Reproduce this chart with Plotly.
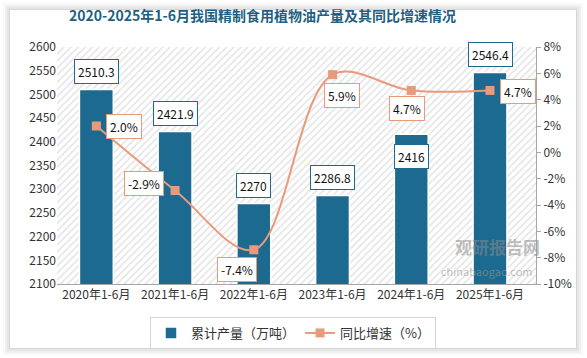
import plotly.graph_objects as go

categories = ["2020年1-6月", "2021年1-6月", "2022年1-6月", "2023年1-6月", "2024年1-6月", "2025年1-6月"]
output_values = [2510.3, 2421.9, 2270, 2286.8, 2416, 2546.4]
growth_values = [2.0, -2.9, -7.4, 5.9, 4.7, 4.7]
output_labels = ["2510.3", "2421.9", "2270", "2286.8", "2416", "2546.4"]
growth_labels = ["2.0%", "-2.9%", "-7.4%", "5.9%", "4.7%", "4.7%"]
left_ticks = list(range(2100, 2601, 50))
right_ticks = list(range(-10, 9, 2))

BAR = "#1D6A90"
LINE = "#E99A7B"
TXT = "#333333"
FONT = "Noto Sans CJK SC"

W, H = 587, 358
ml, mr, mt, mb = 57, 51, 47, 74
pw, ph = W - ml - mr, H - mt - mb


def px_x(x):
    return (x - ml) / pw


def px_y(y):
    return (H - y - mb) / ph


fig = go.Figure()

# hatched plot background (decoration on hidden base axes)
fig.add_trace(go.Bar(x=[0.5], y=[1], width=[1], xaxis="x", yaxis="y",
                     marker=dict(color="white", line=dict(width=0),
                                 pattern=dict(shape="/", fgcolor="#c8c8c8", bgcolor="white", size=5, solidity=0.3)),
                     hoverinfo="skip", showlegend=False))

fig.add_trace(go.Bar(x=categories, y=output_values, xaxis="x2", yaxis="y2",
                     name="累计产量（万吨）", marker=dict(color=BAR, line=dict(color="white", width=1.5)),
                     width=0.43))
fig.add_trace(go.Scatter(x=categories, y=growth_values, xaxis="x2", yaxis="y3",
                         name="同比增速（%）", mode="lines+markers",
                         line=dict(color=LINE, width=2, shape="spline", smoothing=1.0),
                         marker=dict(symbol="square", size=9, color=LINE)))

annotations = []
bar_offsets = {4: (0, -22)}
for i, (c, v, t) in enumerate(zip(categories, output_values, output_labels)):
    dx, dy = bar_offsets.get(i, (0, 18))
    annotations.append(dict(x=c, y=v, xref="x2", yref="y2", text=t, showarrow=False,
                            xshift=dx, yshift=dy, bgcolor="white", bordercolor=BAR, borderwidth=1,
                            borderpad=3, font=dict(family=FONT, size=12, color="#111")))
line_offsets = {0: (28, 0), 1: (-31, 7), 2: (-17, -20), 3: (9, -21), 4: (-4, -18), 5: (28, -1)}
for i, (c, v, t) in enumerate(zip(categories, growth_values, growth_labels)):
    dx, dy = line_offsets[i]
    annotations.append(dict(x=c, y=v, xref="x2", yref="y3", text=t, showarrow=False,
                            xshift=dx, yshift=dy, bgcolor="white", bordercolor=LINE, borderwidth=1,
                            borderpad=3, font=dict(family=FONT, size=12, color="#111")))

annotations.append(dict(x=px_x(262), y=px_y(15), xref="paper", yref="paper", xanchor="center", yanchor="middle",
                        text="<b>2020-2025年1-6月我国精制食用植物油产量及其同比增速情况</b>",
                        showarrow=False, font=dict(family=FONT, size=14, color="#1F5F82")))
annotations.append(dict(x=px_x(497), y=px_y(246), xref="paper", yref="paper", xanchor="center", yanchor="middle",
                        text="<b>观研报告网</b>", showarrow=False,
                        font=dict(family=FONT, size=17, color="rgba(140,140,140,0.55)")))
annotations.append(dict(x=px_x(487), y=px_y(271), xref="paper", yref="paper", xanchor="center", yanchor="middle",
                        text="chinabaogao.com", showarrow=False,
                        font=dict(family=FONT, size=11, color="rgba(150,150,150,0.6)")))

shapes = []
for k, op in [(7, 0.025), (5, 0.035), (3, 0.045), (1, 0.06)]:
    shapes.append(dict(type="rect", xref="paper", yref="paper", layer="below",
                       x0=px_x(10 - k), x1=px_x(576 + k),
                       y0=px_y(348 + k), y1=px_y(10 - k),
                       fillcolor=f"rgba(0,0,0,{op})", line=dict(width=0)))
shapes.append(dict(type="rect", xref="paper", yref="paper", layer="below",
                   x0=px_x(10), x1=px_x(576), y0=px_y(348), y1=px_y(10),
                   fillcolor="white", line=dict(width=0)))

fig.update_layout(
    width=W, height=H,
    margin=dict(l=ml, r=mr, t=mt, b=mb, autoexpand=False),
    paper_bgcolor="white", plot_bgcolor="rgba(0,0,0,0)",
    font=dict(family=FONT, size=12, color=TXT),
    showlegend=True,
    legend=dict(orientation="h", x=px_x(293), xanchor="center", y=px_y(317), yanchor="top",
                bordercolor="#d4d4d4", borderwidth=1, bgcolor="white",
                font=dict(family=FONT, size=13, color=TXT), traceorder="normal",
                itemwidth=30),
    bargap=0.5,
    xaxis=dict(range=[0, 1], visible=False, fixedrange=True),
    yaxis=dict(range=[0, 1], visible=False, fixedrange=True),
    xaxis2=dict(overlaying="x", type="category", showgrid=False, showline=True, linecolor="#a6a6a6",
                linewidth=1, ticks="", tickfont=dict(size=12, color=TXT), anchor="y2"),
    yaxis2=dict(overlaying="y", side="left", range=[2100, 2600], tickvals=left_ticks, showgrid=False,
                showline=False, zeroline=False, ticks="", tickfont=dict(size=12, color=TXT)),
    yaxis3=dict(overlaying="y", side="right", range=[-10, 8], tickvals=right_ticks,
                ticktext=[f"{v}%" for v in right_ticks], showgrid=False, zeroline=False,
                showline=True, linecolor="#a6a6a6", ticks="outside", ticklen=4, tickcolor="#a6a6a6",
                tickfont=dict(size=12, color=TXT)),
    annotations=annotations,
    shapes=shapes,
)

fig.write_html("out.html", config={"displayModeBar": False},
               post_script="document.body.style.margin='0px';document.body.style.overflow='hidden';")
